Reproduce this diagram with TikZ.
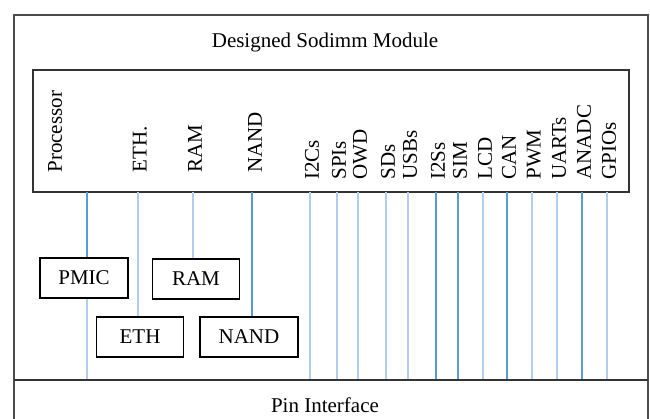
\documentclass[tikz,border=0pt]{standalone}
\usepackage{fontspec}
\setmainfont{Liberation Serif}
\usetikzlibrary{positioning}
\definecolor{busdark}{RGB}{91,155,213}
\definecolor{buslight}{RGB}{178,206,238}

\begin{document}
\begin{tikzpicture}[x=0.5pt,y=-0.5pt,
	font=\fontsize{10.5}{12}\selectfont,
	blk/.style={draw, line width=0.9pt, minimum height=20pt, inner sep=0pt},
	sig/.style={rotate=90, anchor=west, inner sep=0pt},
	bus/.style={buslight, line width=0.8pt},
	busd/.style={busdark, line width=0.8pt}]
	\useasboundingbox (0,0) rectangle (650,419);
	% module frame
	\draw[line width=0.8pt, black!70] (14,430) -- (14,15) -- (648,15) -- (648,430);
	\node (title) at (325,42) {Designed Sodimm Module};
	\coordinate (inNW) at (33,70);
	\coordinate (inSE) at (629,192);
	\draw[line width=0.8pt, black!80] (inNW) rectangle (inSE);
	\coordinate (pinL) at (14,380);
	\coordinate (pinR) at (648,380);
	\node (pin) at (325,405) {Pin Interface};
	% processor side
	\node[sig] (cpu) at (55,173) {Processor};
	\node[sig] (eth) at (140,173) {ETH.};
	\node[sig] (ram) at (195,173) {RAM};
	\node[sig] (nand) at (255,173) {NAND};
	\node[blk, minimum width=44pt] (pmicb) at (84,278) {PMIC};
	\node[blk, minimum width=43.5pt] (ramb) at (196,279) {RAM};
	\node[blk, minimum width=43.5pt] (ethb) at (140,337) {ETH};
	\node[blk, minimum width=49pt] (nandb) at (249,337) {NAND};
	\coordinate (cpuout) at (87,192);
	\draw[busd] (cpuout) -- (cpuout |- pmicb.north);
	\draw[bus] (cpuout |- pmicb.south) -- (cpuout |- pinL);
	\draw[bus] (138,0 |- inSE) -- (138,0 |- ethb.north);
	\draw[bus] (193,0 |- inSE) -- (193,0 |- ramb.north);
	\draw[busd] (252,0 |- inSE) -- (252,0 |- nandb.north);
	% interfaces
	\foreach \x/\t/\s [count=\i] in {310/I2Cs/bus, 337/SPIs/bus, 358/OWD/bus,
		386/SDs/bus, 408/USBs/bus, 436/I2Ss/busd, 458/SIM/busd, 483/LCD/bus,
		507/CAN/busd, 532/PWM/bus, 557/UARTs/bus, 582/ANADC/busd, 607/GPIOs/bus}{
		\node[sig] (if-\i) at (\x+2,180) {\t};
		\draw[\s] (\x,0 |- inSE) -- (\x,0 |- pinL);
	}
	\draw[line width=0.8pt, black!80] (pinL) -- (pinR);
\end{tikzpicture}
\end{document}
